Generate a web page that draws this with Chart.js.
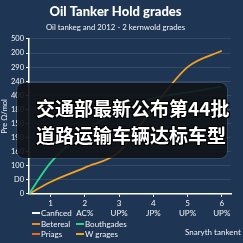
<!DOCTYPE html>
<html>
<head>
<meta charset="utf-8">
<script src="https://cdn.jsdelivr.net/npm/chart.js@4"></script>
<style>
  html, body { margin:0; padding:0; }
  body { width:243px; height:243px; background:#1e3553; position:relative; overflow:hidden; font-family:Lato, sans-serif; }
  #wrap { position:absolute; left:0; top:0; width:243px; height:243px; }
  #legend { position:absolute; left:0; top:0; width:243px; height:243px; pointer-events:none; }
  .lg { position:absolute; display:flex; align-items:center; font-size:8px; color:#f2f5f8; white-space:nowrap; height:10px; }
  .lg i { display:inline-block; width:8px; height:2px; margin-right:1px; }
  #overlay { position:absolute; left:17px; top:83px; width:210px; height:75px; border-radius:7px;
    background:rgba(16,18,22,0.9); box-shadow:0 0 0 1px rgba(255,255,255,0.10); }
  .cn { position:absolute; left:19px; font-family:"Noto Sans CJK SC", sans-serif; font-weight:700; font-size:19px; line-height:19px; color:#fff;
    text-shadow:1px 1px 0 #000, -1px -1px 0 #000, 1px -1px 0 #000, -1px 1px 0 #000; white-space:nowrap; }
  #foot { position:absolute; left:185px; top:227px; font-size:8px; color:#eef2f6; white-space:nowrap; }
</style>
</head>
<body>
<div id="wrap"><canvas id="c" width="243" height="243"></canvas></div>
<div id="overlay">
  <div class="cn" id="cn1" style="top:15px"></div>
  <div class="cn" id="cn2" style="top:42px"></div>
</div>
<div id="legend"></div>
<div id="foot"></div>
<script>
// ---- data ----
const titleText = "Oil Tanker Hold grades";
const subtitleText = "Oil tankeg and 2012 - 2 kernwold grades";
const yAxisTitle = "Pre Ω/mol";
const xTickValues = [1, 2, 3, 4, 5, 6];
const xTickTop = ["1", "2", "3", "4", "5", "6"];
const xTickBottom = ["", "AC%", "UP%", "JP%", "UP%", "UP%"];
const yTickLabels = ["0", "D0", "100", "160", "190", "150", "180", "400", "240", "290", "200", "500"];
const seriesNames = ["Canficed", "Betereal", "Priags", "Bouthgades", "W grages"];
const seriesColors = ["#f4f6f8", "#f08a1e", "#ee6a12", "#2bd68c", "#f5a01e"];
const xPoints = [0.37, 1, 2, 3, 4, 5, 6];
const canficedValues = [];
const beterealValues = [];
const priagsValues = [];
const bouthgadesValues = [0, 111, 221, 296, 339, 360, 381];
const wGragesValues = [0, 42, 93, 149, 306, 450, 508];
const overlayLines = ["交通部最新公布第44批", "道路运输车辆达标车型"];
const footerText = "Snaryth tankent";

// ---- build ----
const allValues = [canficedValues, beterealValues, priagsValues, bouthgadesValues, wGragesValues];
const datasets = seriesNames.map((name, i) => ({
  label: name,
  data: allValues[i].map((v, k) => ({ x: xPoints[k], y: v })),
  borderColor: seriesColors[i],
  backgroundColor: seriesColors[i],
  borderWidth: 1.8,
  pointRadius: 0,
  cubicInterpolationMode: "monotone",
  fill: false
}));

new Chart(document.getElementById("c"), {
  type: "line",
  data: { datasets },
  options: {
    responsive: false,
    animation: false,
    layout: { padding: { left: 0, right: 12, top: 0, bottom: 23 } },
    plugins: {
      legend: { display: false },
      tooltip: { enabled: false },
      title: { display: true, text: titleText, color: "#ffffff",
        font: { family: "Lato", size: 13, weight: "900" }, padding: { top: 4, bottom: 3 } },
      subtitle: { display: true, text: subtitleText, color: "#f0f3f7",
        font: { family: "Lato", size: 7.8 }, padding: { top: 0, bottom: 7 } }
    },
    scales: {
      x: {
        type: "linear", min: 0.37, max: 6.27,
        afterBuildTicks: (s) => { s.ticks = xTickValues.map(v => ({ value: v })); },
        grid: { color: "transparent", tickColor: "#ffffff", tickLength: 3, drawOnChartArea: false },
        border: { color: "#ffffff", width: 1.5 },
        ticks: { color: "#f2f5f8", font: { family: "Lato", size: 8 }, padding: 2, maxRotation: 0,
          callback: (v) => { const i = xTickValues.indexOf(v); return i < 0 ? "" : [xTickTop[i], xTickBottom[i]]; } }
      },
      y: {
        min: 0, max: 550,
        ticks: { stepSize: 50, color: "#f2f5f8", font: { family: "Lato", size: 7.5 }, padding: 2,
          callback: (v) => yTickLabels[Math.round(v / 50)] ?? "" },
        grid: { color: "rgba(255,255,255,0.10)", tickColor: "#ffffff", tickLength: 3 },
        border: { color: "#ffffff", width: 1.5 },
        title: { display: true, text: yAxisTitle, color: "#f2f5f8", font: { family: "Lato", size: 7.5 }, padding: 0 }
      }
    }
  }
});

// legend (HTML), built from the series arrays
const legendPos = { "Canficed": [32, 208], "Betereal": [32, 219], "Priags": [32, 229], "Bouthgades": [76, 219], "W grages": [76, 229] };
const lg = document.getElementById("legend");
seriesNames.forEach((n, i) => {
  const d = document.createElement("div");
  d.className = "lg";
  d.style.left = legendPos[n][0] + "px";
  d.style.top = legendPos[n][1] + "px";
  d.innerHTML = '<i style="background:' + seriesColors[i] + '"></i>' + n;
  lg.appendChild(d);
});
document.getElementById("cn1").textContent = overlayLines[0];
document.getElementById("cn2").textContent = overlayLines[1];
document.getElementById("foot").textContent = footerText;
</script>
</body>
</html>
